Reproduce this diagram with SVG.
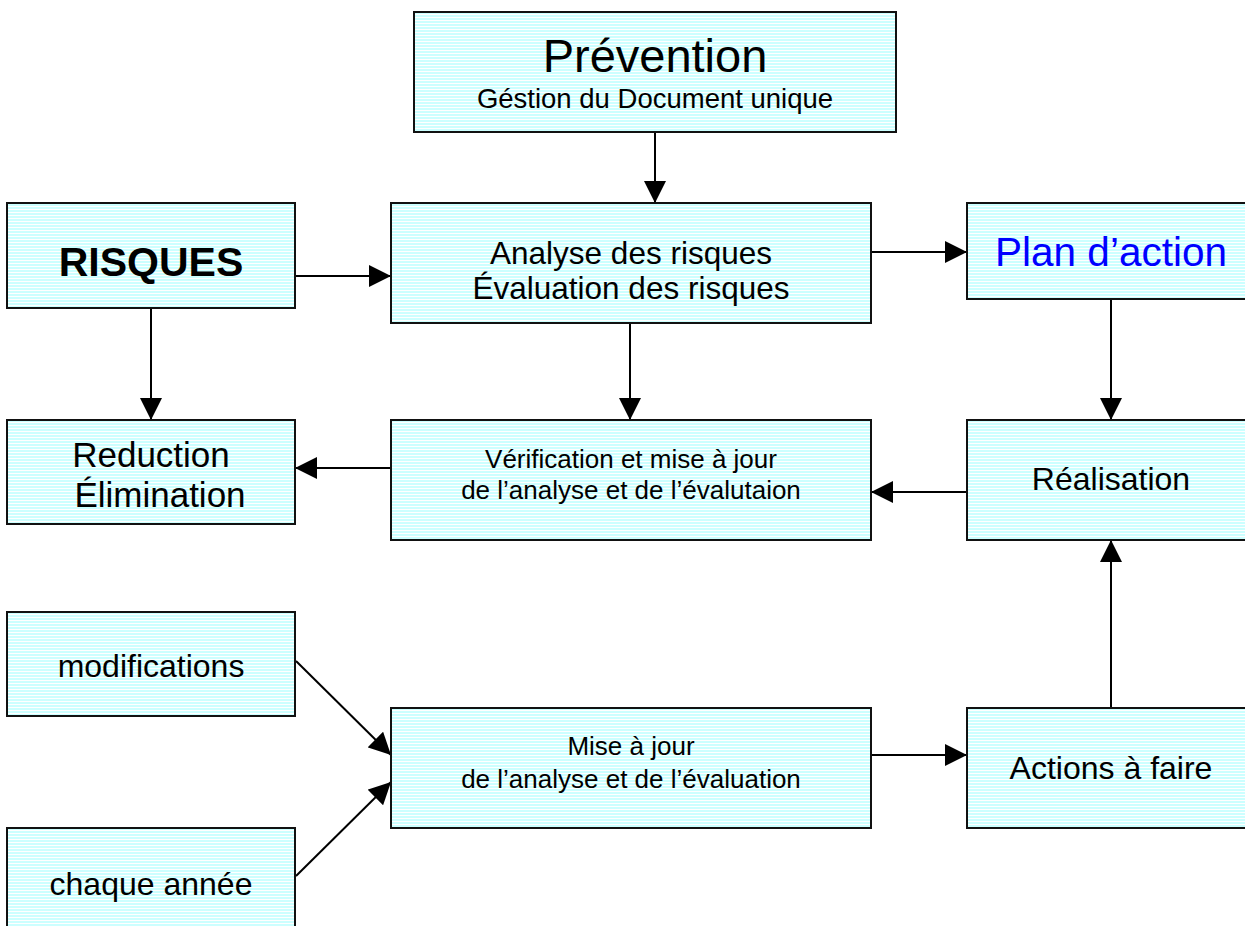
<svg xmlns="http://www.w3.org/2000/svg" width="1245" height="926" viewBox="0 0 1245 926">
<defs>
<pattern id="stripes" x="0" y="0" width="8" height="3" patternUnits="userSpaceOnUse">
<rect width="8" height="3" fill="#ccffff"/>
<rect y="2" width="8" height="1" fill="#ffffff"/>
</pattern>
<marker id="arr" markerUnits="userSpaceOnUse" markerWidth="22" markerHeight="22" viewBox="0 0 20 20" refX="20" refY="10" orient="auto">
<path d="M0,0 L20,10 L0,20 Z" fill="#000"/>
</marker>
<style>
.box{fill:url(#stripes);stroke:#111;stroke-width:2}
.t{font-family:"Liberation Sans",Arial,sans-serif;fill:#000;text-anchor:middle}
.c{stroke:#000;stroke-width:2;fill:none;marker-end:url(#arr)}
</style>
</defs>
<rect width="1245" height="926" fill="#fff"/>
<g id="connectors">
<line class="c" x1="655" y1="132" x2="655" y2="203"/>
<line class="c" x1="295" y1="276" x2="391" y2="276"/>
<line class="c" x1="871" y1="252" x2="967" y2="252"/>
<line class="c" x1="151" y1="308" x2="151" y2="420"/>
<line class="c" x1="630" y1="323" x2="630" y2="420"/>
<line class="c" x1="1111" y1="299" x2="1111" y2="420"/>
<line class="c" x1="391" y1="468" x2="295" y2="468"/>
<line class="c" x1="967" y1="492" x2="871" y2="492"/>
<line class="c" x1="296" y1="661" x2="391" y2="755"/>
<line class="c" x1="296" y1="876" x2="391" y2="782"/>
<line class="c" x1="871" y1="755" x2="967" y2="755"/>
<line class="c" x1="1111" y1="708" x2="1111" y2="540"/>
</g>
<g id="prevention">
<rect class="box" x="414" y="12" width="482" height="120"/>
<text class="t" x="655" y="72" font-size="47">Prévention</text>
<text class="t" x="655" y="108" font-size="27.5">Géstion du Document unique</text>
</g>
<g id="risques">
<rect class="box" x="7" y="203" width="288" height="105"/>
<text class="t" x="151" y="276" font-size="41" font-weight="bold">RISQUES</text>
</g>
<g id="analyse">
<rect class="box" x="391" y="203" width="480" height="120"/>
<text class="t" x="631" y="264" font-size="31.5">Analyse des risques</text>
<text class="t" x="631" y="299" font-size="31.5">Évaluation des risques</text>
</g>
<g id="plan">
<rect class="box" x="967" y="203" width="290" height="96"/>
<text class="t" x="1111" y="266" font-size="40.5" style="fill:#0000ff">Plan d’action</text>
</g>
<g id="reduction">
<rect class="box" x="7" y="420" width="288" height="104"/>
<text class="t" x="151" y="467" font-size="35">Reduction</text>
<text class="t" x="160" y="507" font-size="35">Élimination</text>
</g>
<g id="verification">
<rect class="box" x="391" y="420" width="480" height="120"/>
<text class="t" x="631" y="468" font-size="26">Vérification et mise à jour</text>
<text class="t" x="631" y="499" font-size="26">de l’analyse et de l’évalutaion</text>
</g>
<g id="realisation">
<rect class="box" x="967" y="420" width="290" height="120"/>
<text class="t" x="1111" y="490" font-size="32">Réalisation</text>
</g>
<g id="modifications">
<rect class="box" x="7" y="612" width="288" height="104"/>
<text class="t" x="151" y="677" font-size="32">modifications</text>
</g>
<g id="miseajour">
<rect class="box" x="391" y="708" width="480" height="120"/>
<text class="t" x="631" y="755" font-size="26">Mise à jour</text>
<text class="t" x="631" y="788" font-size="26">de l’analyse et de l’évaluation</text>
</g>
<g id="actions">
<rect class="box" x="967" y="708" width="290" height="120"/>
<text class="t" x="1111" y="779" font-size="32">Actions à faire</text>
</g>
<g id="chaque">
<rect class="box" x="7" y="828" width="288" height="110"/>
<text class="t" x="151" y="895" font-size="32">chaque année</text>
</g>
</svg>
